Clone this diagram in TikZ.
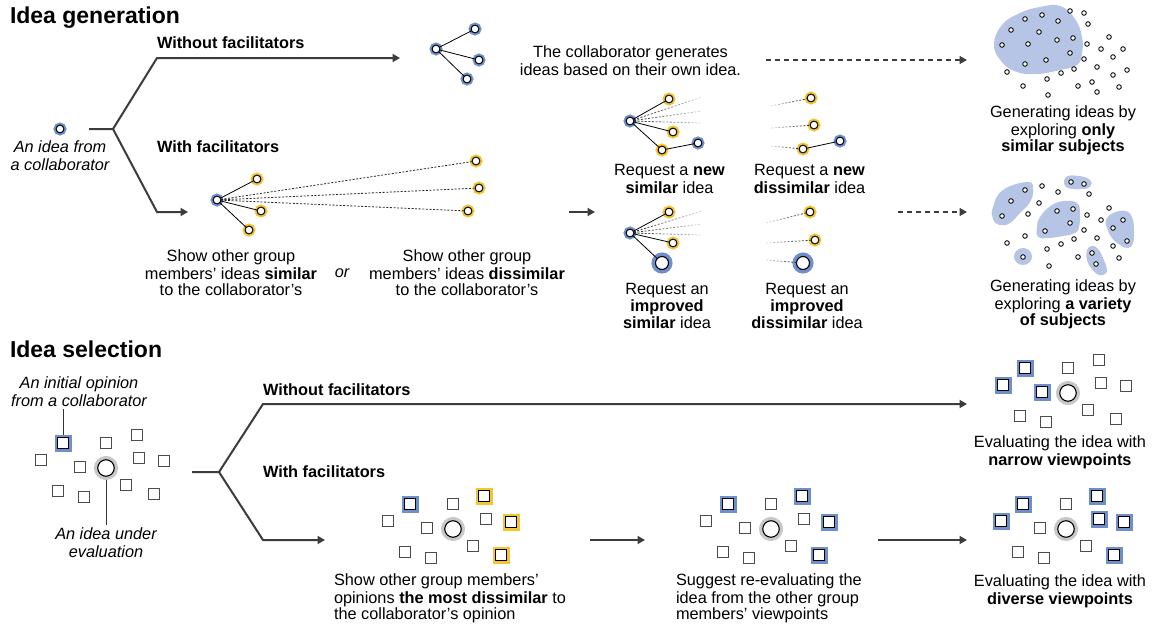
\documentclass[tikz,border=0pt]{standalone}
\usepackage{fontspec}
\setmainfont{Liberation Sans}
\usetikzlibrary{arrows.meta,fadings}

\definecolor{ringblue}{HTML}{6F8FCC}
\definecolor{ringyellow}{HTML}{F4C431}
\definecolor{blobblue}{HTML}{B6C5E6}
\definecolor{halogray}{HTML}{C8C8C8}
\definecolor{flow}{HTML}{3C3C3C}

\tikzfading[name=hint fade right, left color=transparent!0, right color=transparent!85]
\tikzfading[name=hint fade left, left color=transparent!85, right color=transparent!0]

\newcommand\bodyfont{\fontsize{16.3}{16.5}\selectfont}
\newcommand\headfont{\fontsize{23}{24}\selectfont\bfseries}

\tikzset{
  every node/.style={inner sep=0pt, outer sep=0pt},
  idea/.style={circle, minimum size=7.8pt, draw=black, line width=1pt, fill=white},
  ideablue/.style={idea, preaction={draw=ringblue, line width=5pt}},
  ideayel/.style={idea, preaction={draw=ringyellow, line width=5pt}},
  bigblue/.style={circle, minimum size=13pt, draw=black, line width=1.1pt, fill=white,
    preaction={draw=ringblue, line width=8pt}},
  dot/.style={circle, minimum size=4.6pt, draw=black, line width=0.85pt, fill=white},
  op/.style={rectangle, minimum size=10.5pt, draw=black!70, line width=1.2pt, fill=white},
  opblue/.style={op, minimum size=11pt, draw=black, preaction={draw=ringblue, line width=6pt}},
  opyel/.style={op, minimum size=11pt, draw=black, preaction={draw=ringyellow, line width=6pt}},
  evalidea/.style={circle, minimum size=16.5pt, draw=black, line width=1.1pt, fill=white,
    preaction={draw=halogray, line width=7.5pt}},
  flowline/.style={draw=flow, line width=2pt},
  flowarrow/.style={flowline, -{Triangle[length=7.5pt,width=8pt]}},
  dasharrow/.style={draw=flow, line width=1.6pt, dash pattern=on 5pt off 4pt,
    -{Triangle[length=7.5pt,width=8pt]}},
  link/.style={draw=black, line width=0.8pt},
  hint/.style={draw=black!85, line width=0.8pt, dash pattern=on 2pt off 1.6pt},
  hintright/.style={hint, path fading=hint fade right},
  hintleft/.style={hint, path fading=hint fade left},
  pointer/.style={draw=black!80, line width=0.9pt},
  head/.style={font=\headfont, anchor=base west},
  branch/.style={font=\bodyfont\bfseries, anchor=base west},
  txt/.style={font=\bodyfont, align=center, anchor=north},
  ltxt/.style={font=\bodyfont, align=left, anchor=north west},
  note/.style={font=\bodyfont\itshape, align=center, anchor=north},
}

% a cluster of eleven opinions around an idea under evaluation
% #1 name, #2 centre, #3 styles of the eleven opinions
\newcommand\opinions[3]{%
  \node[evalidea] (#1) at #2 {};
  \foreach \st [count=\k] in {#3} {%
    \pgfmathsetmacro\dx{{-43,-65,-26,0,31,33,58,20,-48,-22,48}[\k-1]}%
    \pgfmathsetmacro\dy{{-25,-8,-1,-25,-33,-10,-7,17,23,29,26}[\k-1]}%
    \node[\st] (#1-\k) at ([shift={(\dx,\dy)}]#1.center) {};
  }%
}

\begin{document}
\begin{tikzpicture}[x=1pt, y=-1pt]
\path[use as bounding box, fill=white] (0,0) rectangle (1157,624);

% ================= Idea generation =================
\node[head] (gentitle) at (10,23) {Idea generation};

\node[ideablue] (src) at (60,129) {};
\node[note] (srclabel) at (60,140.5) {\strut An idea from\\a collaborator};

\coordinate (gstem) at (89,129);
\coordinate (gfork) at (113,129);
\coordinate (gup) at (157,58);
\coordinate (gupend) at (400,58);
\coordinate (gdown) at (157,212);
\coordinate (gdownend) at (188,212);
\draw[flowarrow] (gstem) -- (gfork) -- (gup) -- (gupend);
\draw[flowarrow] (gfork) -- (gdown) -- (gdownend);

\node[branch] (gnofac) at (157,48) {Without facilitators};
\node[branch] (gfac) at (157,152) {With facilitators};

% ideas grown from the collaborator's own idea
\node[ideablue] (own) at (436,49) {};
\node[ideablue] (own1) at (475,29) {};
\node[ideablue] (own2) at (479,60) {};
\node[ideablue] (own3) at (467,79) {};
\draw[link] (own) -- (own1) (own) -- (own2) (own) -- (own3);

\node[txt] (ownlabel) at (630.5,46) {\strut The collaborator generates\\ideas based on their own idea.};

\coordinate (d1s) at (766,60);
\coordinate (d1e) at (967,60);
\draw[dasharrow] (d1s) -- (d1e);

% one explored region
\fill[blobblue] plot[smooth cycle, tension=0.75] coordinates {
  (994,45) (1002,25) (1020,13) (1040,7) (1060,6) (1075,19) (1082,37) (1082,53)
  (1077,65) (1060,70) (1037,74) (1017,72) (1002,62)};
\foreach \x/\y [count=\i] in {1070/11,1084/13,1088/24,1025/19,1042/15,1058/21,1011/30,
  1039/32,1002/45,1028/44,1057/40,1073/38,1087/44,1109/37,1101/49,1123/49,1070/53,
  1084/59,1113/57,1025/64,1046/60,1007/72,1061/73,1074/69,1097/67,1127/70,1113/75,
  1047/79,1092/82,1078/86,1023/86,1119/87,1097/92,1048/95}
  \node[dot] (sa\i) at (\x,\y) {};
\node[txt] (simlabel) at (1063,105.5) {\strut Generating ideas by\\exploring \textbf{only}\\\textbf{similar subjects}};

% facilitated: ideas of the other group members
\node[ideablue] (fac) at (217,200) {};
\node[ideayel] (near1) at (257,179) {};
\node[ideayel] (near2) at (261,211) {};
\node[ideayel] (near3) at (249,230) {};
\node[ideayel] (far1) at (476,161) {};
\node[ideayel] (far2) at (479,188) {};
\node[ideayel] (far3) at (468,211) {};
\draw[link] (fac) -- (near1) (fac) -- (near2) (fac) -- (near3);
\draw[hint] (fac) -- (far1) (fac) -- (far2) (fac) -- (far3);

\node[txt] (simshow) at (231,249.5) {\strut Show other group\\members’ ideas \textbf{similar}\\to the collaborator’s};
\node[font=\bodyfont\itshape, anchor=base] (ortext) at (342,277) {or};
\node[txt] (disshow) at (467,249.5) {\strut Show other group\\members’ ideas \textbf{dissimilar}\\to the collaborator’s};

\coordinate (reqs) at (569,212);
\coordinate (reqe) at (595,212);
\draw[flowarrow] (reqs) -- (reqe);

% request a new similar idea
\node[ideablue] (ra) at (630,121) {};
\node[ideayel] (ra1) at (669,99) {};
\node[ideayel] (ra2) at (673,132) {};
\node[ideayel] (ra3) at (662,150) {};
\node[ideablue] (ra4) at (698,143) {};
\coordinate (ra-h1) at (702,97);
\coordinate (ra-h2) at (702,111);
\coordinate (ra-h3) at (702,123);
\draw[hintright] (ra) -- (ra-h1);
\draw[hintright] (ra) -- (ra-h2);
\draw[hintright] (ra) -- (ra-h3);
\draw[link] (ra) -- (ra1) (ra) -- (ra2) (ra) -- (ra3) (ra3) -- (ra4);
\node[txt] (reqA) at (669.5,164) {\strut Request a \textbf{new}\\\textbf{similar} idea};

% request a new dissimilar idea
\node[ideayel] (rb1) at (811,98) {};
\node[ideayel] (rb2) at (814,125) {};
\node[ideayel] (rb3) at (803,149) {};
\node[ideablue] (rb4) at (840,141) {};
\coordinate (rb-h1) at (771,106);
\coordinate (rb-h2) at (771,128);
\coordinate (rb-h3) at (771,146);
\draw[hintleft] (rb-h1) -- (rb1);
\draw[hintleft] (rb-h2) -- (rb2);
\draw[hintleft] (rb-h3) -- (rb3);
\draw[link] (rb3) -- (rb4);
\node[txt] (reqB) at (809.5,164) {\strut Request a \textbf{new}\\\textbf{dissimilar} idea};

% request an improved similar idea
\node[ideablue] (rc) at (630,233) {};
\node[ideayel] (rc1) at (669,212) {};
\node[ideayel] (rc2) at (673,243) {};
\node[bigblue] (rc3) at (662,263) {};
\coordinate (rc-h1) at (702,211);
\coordinate (rc-h2) at (702,224);
\coordinate (rc-h3) at (702,235);
\draw[hintright] (rc) -- (rc-h1);
\draw[hintright] (rc) -- (rc-h2);
\draw[hintright] (rc) -- (rc-h3);
\draw[link] (rc) -- (rc1) (rc) -- (rc2) (rc) -- (rc3);
\node[txt] (reqC) at (667,282.5) {\strut Request an\\\textbf{improved}\\\textbf{similar} idea};

% request an improved dissimilar idea
\node[ideayel] (rd1) at (810,212) {};
\node[ideayel] (rd2) at (815,240) {};
\node[bigblue] (rd3) at (803,263) {};
\coordinate (rd-h1) at (766,223);
\coordinate (rd-h2) at (766,243);
\coordinate (rd-h3) at (766,260);
\draw[hintleft] (rd-h1) -- (rd1);
\draw[hintleft] (rd-h2) -- (rd2);
\draw[hintleft] (rd-h3) -- (rd3);
\node[txt] (reqD) at (807,282.5) {\strut Request an\\\textbf{improved}\\\textbf{dissimilar} idea};

\coordinate (d2s) at (898,212);
\coordinate (d2e) at (967,212);
\draw[dasharrow] (d2s) -- (d2e);

% several explored regions
\fill[blobblue] plot[smooth cycle, tension=0.75] coordinates {
  (1028,182) (1033,190) (1030,202) (1020,213) (1010,223) (1000,225) (993,219) (993,207) (1003,190)};
\fill[blobblue] plot[smooth cycle, tension=0.75] coordinates {
  (1066,177) (1079,176) (1090,180) (1090,187) (1080,189) (1066,187)};
\fill[blobblue] plot[smooth cycle, tension=0.75] coordinates {
  (1037,228) (1040,217) (1052,205) (1065,201) (1077,203) (1080,213) (1079,227)
  (1075,233) (1063,236) (1048,238) (1038,237)};
\fill[blobblue] plot[smooth cycle, tension=0.75] coordinates {
  (1106,220) (1113,213) (1125,211) (1132,217) (1134,230) (1133,243) (1128,248)
  (1120,245) (1112,238) (1107,228)};
\fill[blobblue] (1023,256.5) ellipse [x radius=9, y radius=8.5];
\fill[blobblue] plot[smooth cycle, tension=0.75] coordinates {
  (1087,250) (1092,246) (1098,249) (1103,258) (1107,270) (1103,275) (1097,274)
  (1091,268) (1087,260)};
\foreach \x/\y [count=\i] in {1025/190,1011/201,1002/216,1071/182,1084/184,1057/211,
  1073/209,1070/223,1045/231,1123/220,1113/228,1127/241,1023/257,1092/253,1096/264,
  1042/186,1058/192,1039/203,1089/194,1028/214,1109/208,1087/215,1101/220,1084/230,
  1097/238,1074/239,1061/244,1025/236,1007/243,1047/249,1113/246,1078/257,1119/258,
  1049/266}
  \node[dot] (sb\i) at (\x,\y) {};
\node[txt] (varlabel) at (1063,279.5) {\strut Generating ideas by\\exploring \textbf{a variety}\\\textbf{of subjects}};

% ================= Idea selection =================
\node[head] (seltitle) at (10,357) {Idea selection};

\opinions{init}{(106,468)}{opblue,op,op,op,op,op,op,op,op,op,op}
\node[note] (initlabel) at (79,376.5) {\strut An initial opinion\\from a collaborator};
\draw[pointer] ([yshift=-3pt]init-1.north |- initlabel.south) -- ([yshift=3pt]init-1.north);
\node[note] (evallabel) at (106,527.5) {\strut An idea under\\evaluation};
\draw[pointer] ([yshift=-3.5pt]init.south) -- ([yshift=2.5pt]init.south |- evallabel.north);

\coordinate (sstem) at (192,472);
\coordinate (sfork) at (219,472);
\coordinate (sup) at (263,404);
\coordinate (supend) at (967,404);
\coordinate (sdown) at (263,540);
\coordinate (sdownend) at (325,540);
\draw[flowarrow] (sstem) -- (sfork) -- (sup) -- (supend);
\draw[flowarrow] (sfork) -- (sdown) -- (sdownend);

\node[branch] (snofac) at (263,395) {Without facilitators};
\node[branch] (sfac) at (263,477) {With facilitators};

% without facilitators
\opinions{narrow}{(1068,393)}{opblue,opblue,opblue,op,op,op,op,op,op,op,op}
\node[txt] (narrowlabel) at (1060,436) {\strut Evaluating the idea with\\\textbf{narrow viewpoints}};

% with facilitators
\opinions{show}{(453,529)}{opblue,op,op,op,opyel,op,opyel,op,op,op,opyel}
\node[ltxt] (showlabel) at (334,573.5) {\strut Show other group members’\\opinions \textbf{the most dissimilar} to\\the collaborator’s opinion};

\coordinate (a1s) at (590,540);
\coordinate (a1e) at (645,540);
\draw[flowarrow] (a1s) -- (a1e);

\opinions{suggest}{(771,529)}{opblue,op,op,op,opblue,op,opblue,op,op,op,opblue}
\node[ltxt] (suggestlabel) at (676,573.5) {\strut Suggest re-evaluating the\\idea from the other group\\members’ viewpoints};

\coordinate (a2s) at (878,540);
\coordinate (a2e) at (967,540);
\draw[flowarrow] (a2s) -- (a2e);

\opinions{diverse}{(1066,529)}{opblue,opblue,op,op,opblue,opblue,opblue,op,op,op,opblue}
\node[txt] (diverselabel) at (1060,574.5) {\strut Evaluating the idea with\\\textbf{diverse viewpoints}};

\end{tikzpicture}
\end{document}
